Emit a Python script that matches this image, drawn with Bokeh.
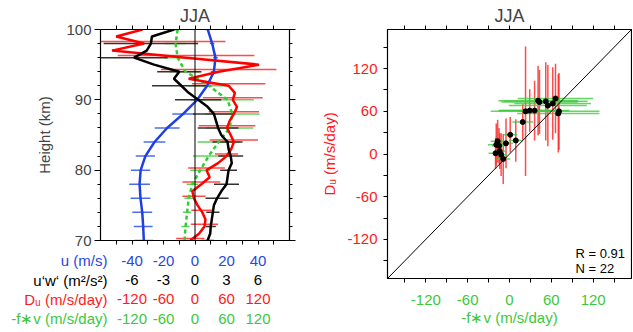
from bokeh.plotting import figure
from bokeh.models import Range1d, LinearAxis, FixedTicker, Label, Span, Slope
from bokeh.core.properties import value
from bokeh.layouts import row, column
from bokeh.embed import file_html
from bokeh.resources import INLINE

FONT = "Liberation Sans"
BLUE = "#1f3fe0"
BLUE_BAR = "#4a6cf0"
RED = "#ff0000"
GREEN = "#33cc33"
TXT_BLUE = "#2848dc"
TXT_RED = "#ff1a1a"
TXT_GREEN = "#3cc83c"

# ---------------- left panel data (JJA profiles) ----------------
h_2km = [70, 72, 74, 76, 78, 80, 82, 84, 86, 88, 90, 92, 94, 96, 98, 100]
u_wind = [-32.5, -32.9, -33.5, -34.6, -35.2, -34.5, -31.5, -25.7, -17.7, -7.5, 1.4, 7.7, 12.0, 13.0, 10.9, 8.1]
u_wind_err = [6, 6, 6.3, 6.3, 6.6, 6.1, 6.1, 6.9, 7.9, 6.9, 4, 3.2, 2, 1.5, 1.5, 1.5]
fv = [-20, -18, -15, -12, -5, 10, 26, 45, 66, 71, 62, 27, -18, -33, -37, -33]
fv_err = [8, 8, 8, 8, 11, 19, 30, 40, 45, 52, 50, 40, 30, 25, 20, 8]
uw_err = [0.63, 0.48, 0.63, 1.1, 1.19, 0.8, 1.19, 1.43, 1.94, 1.98, 2.2, 2.8, 2.1, 3.2, 4.5, 0.3]
du_err = [27, 26, 21, 22, 36, 35, 22, 46, 54, 48, 57, 70, 110, 130, 155, 5]

h_1km = list(range(70, 101))
uw = [1.2, 1.45, 1.5, 1.6, 1.7, 1.8, 2.1, 2.5, 3.0, 3.1, 3.2, 3.5, 3.4, 3.2, 3.1, 2.5,
      2.2, 2.0, 1.8, 1.2, 0.3, -0.6, -1.3, -2.0, -1.5, -3.9, -5.8, -4.6, -4.2, -4.1, -2.0]
du = [-9, 8, 18, 20, 14, 5, -2, -5, 12, 28, 22, 44, 60, 69, 74, 68,
      61, 66, 74, 80, 72, 76, 64, -12, 45, 122, -17, -158, -97, -150, -100]

u_ticks = [-40, -20, 0, 20, 40]
uw_ticks = [-6, -3, 0, 3, 6]
acc_ticks = [-120, -60, 0, 60, 120]
row_titles = ["u (m/s)", "u\u2018w\u2018 (m\u00b2/s\u00b2)", "D\u1d64 (m/s/day)", "-f\u2217v (m/s/day)"]

# ---------------- right panel data (scatter) ----------------
fv_pts = [41, 43, 52, 55, 62, 66, 71, 70, 36, 29, 23, 19, 9, 1, -5, -17, -19, -15, -20, -14, -12, -9]
du_pts = [75, 73, 74, 68, 71, 78, 60, 57, 61, 61, 60, 45, 19, 27, 15, 18, 13, 11.5, 1, 4, -1, -7]
du_pts_err = [49, 45, 55, 57, 51, 49, 54, 55, 42, 30, 91, 25, 30, 25, 35, 30, 30, 25, 22, 25, 30, 35]
fv_pts_err = [57, 55, 60, 56, 55, 54, 58, 59, 50, 45, 50, 15, 10, 10, 10, 10, 12, 10, 10, 8, 8, 10]
scatter_ticks = [-120, -60, 0, 60, 120]
stats_text = ["R = 0.91", "N = 22"]

# ---------------- layout constants (pixels) ----------------
W1, FR_L, FR_R = 318, 100, 289      # left figure width and frame edges
H1, FR_BOT_PAD = 249, 9             # left figure height, space under its frame
H_ROWS = 82                         # strip with the stacked scale labels
ROW_Y = [11, 30.5, 49.5, 69]        # row centres within the strip
TITLE_X = 107                       # right edge of the row titles


def no_align(p):
    if "frame_align" in p.properties():
        p.frame_align = False


def blank_axis(ax):
    ax.major_label_overrides = {t: "" for t in ax.ticker.ticks}
    ax.major_label_text_font_size = "1px"
    ax.major_label_standoff = 0
    ax.major_tick_in = 0
    ax.minor_tick_in = 0


def style_title(p):
    p.title.text = "JJA"
    p.title.align = "center"
    p.title.text_font = FONT
    p.title.text_font_size = "18px"
    p.title.text_font_style = "normal"
    p.title.standoff = 0


# ================= left figure (profiles) =================
p1 = figure(width=W1, height=H1, x_range=Range1d(-60, 60), y_range=Range1d(70, 100),
            output_backend="svg", toolbar_location=None,
            min_border_left=FR_L, min_border_right=W1 - FR_R, min_border_top=29, min_border_bottom=FR_BOT_PAD)
no_align(p1)
p1.extra_x_ranges = {"uw": Range1d(-9, 9), "acc": Range1d(-180, 180)}
p1.grid.visible = False
p1.outline_line_color = "black"
p1.outline_line_width = 1.2
style_title(p1)

ax_u = p1.xaxis[0]
ax_u.ticker = FixedTicker(ticks=u_ticks, minor_ticks=[-50, -30, -10, 10, 30, 50])
blank_axis(ax_u)
ax_u.major_tick_out = 4
ax_u.minor_tick_out = 4

ax_h = p1.yaxis[0]
ax_h.ticker = FixedTicker(ticks=[70, 80, 90, 100], minor_ticks=list(range(72, 100, 2)))
ax_h.major_tick_in = 0
ax_h.minor_tick_in = 0
ax_h.major_tick_out = 6
ax_h.minor_tick_out = 3
ax_h.major_label_standoff = 3
ax_h.major_label_text_font = FONT
ax_h.major_label_text_font_size = "15px"
ax_h.axis_label = "Height (km)"
ax_h.axis_label_text_font = FONT
ax_h.axis_label_text_font_size = "15px"
ax_h.axis_label_text_font_style = "normal"
ax_h.axis_label_standoff = 10

top1 = LinearAxis(ticker=FixedTicker(ticks=list(range(-50, 60, 10))))
blank_axis(top1)
top1.major_tick_out = 4
p1.add_layout(top1, "above")

right1 = LinearAxis(ticker=FixedTicker(ticks=[70, 80, 90, 100], minor_ticks=list(range(72, 100, 2))))
blank_axis(right1)
right1.major_tick_out = 6
right1.minor_tick_out = 3
p1.add_layout(right1, "right")

p1.add_layout(Span(location=0, dimension="height", line_color="black", line_width=1))

# error bars
p1.segment(x0=[v - e for v, e in zip(u_wind, u_wind_err)], x1=[v + e for v, e in zip(u_wind, u_wind_err)],
           y0=h_2km, y1=h_2km, line_color=BLUE_BAR, line_width=1.5)
p1.segment(x0=[v - e for v, e in zip(fv, fv_err)], x1=[v + e for v, e in zip(fv, fv_err)],
           y0=h_2km, y1=h_2km, line_color="#5fd35f", line_width=1.5, x_range_name="acc")
uw_even = uw[::2]
du_even = du[::2]
p1.segment(x0=[v - e for v, e in zip(uw_even, uw_err)], x1=[v + e for v, e in zip(uw_even, uw_err)],
           y0=h_2km, y1=h_2km, line_color="#333333", line_width=1.5, x_range_name="uw")
p1.segment(x0=[v - e for v, e in zip(du_even, du_err)], x1=[v + e for v, e in zip(du_even, du_err)],
           y0=[h + 0.3 for h in h_2km], y1=[h + 0.3 for h in h_2km], line_color="#ff2a2a",
           line_alpha=0.85, line_width=1.5, x_range_name="acc")

# profiles
p1.line(fv, h_2km, line_color=GREEN, line_width=2.5, line_dash="4 3", x_range_name="acc")
p1.line(u_wind, h_2km, line_color=BLUE, line_width=2.5)
p1.line(du, h_1km, line_color=RED, line_width=2.5, x_range_name="acc")
p1.line(uw, h_1km, line_color="black", line_width=2.5, x_range_name="uw")

# ================= strip with the four stacked scales =================
# its x scale continues the profile panel's u scale across the full strip width
px = 120 / (FR_R - FR_L)
x0 = -60 - FR_L * px
x1 = 60 + (W1 - FR_R) * px
p1b = figure(width=W1, height=H_ROWS, x_range=Range1d(x0, x1), y_range=Range1d(H_ROWS, 0),
             output_backend="svg", toolbar_location=None, min_border=0,
             x_axis_location=None, y_axis_location=None)
no_align(p1b)
p1b.extra_x_ranges = {"uw": Range1d(x0 * 6 / 40, x1 * 6 / 40), "acc": Range1d(x0 * 3, x1 * 3)}
p1b.grid.visible = False
p1b.outline_line_color = None

rows = [(u_ticks, "default", TXT_BLUE), (uw_ticks, "uw", "black"),
        (acc_ticks, "acc", TXT_RED), (acc_ticks, "acc", TXT_GREEN)]
for i, (ticks, rname, col) in enumerate(rows):
    p1b.text(x=ticks, y=[ROW_Y[i]] * len(ticks), text=[str(t) for t in ticks], x_range_name=rname,
             text_align="center", text_baseline="middle", text_color=col,
             text_font=value(FONT), text_font_size="15px")
    p1b.add_layout(Label(x=TITLE_X, y=ROW_Y[i], x_units="screen", y_units="data", text=row_titles[i],
                         text_align="right", text_baseline="middle", text_color=col,
                         text_font=FONT, text_font_size="15px"))

# ================= right figure (scatter) =================
p2 = figure(width=314, height=H1 + H_ROWS, x_range=Range1d(-175, 175), y_range=Range1d(-175, 175),
            output_backend="svg", toolbar_location=None,
            min_border_left=66, min_border_right=1, min_border_top=29,
            min_border_bottom=H1 + H_ROWS - 278)
no_align(p2)
p2.grid.visible = False
p2.outline_line_color = "black"
p2.outline_line_width = 1.2
style_title(p2)

minor30 = [-150, -90, -30, 30, 90, 150]
for ax, col, lab in [(p2.xaxis[0], TXT_GREEN, "-f\u2217v (m/s/day)"), (p2.yaxis[0], TXT_RED, "D\u1d64 (m/s/day)")]:
    ax.ticker = FixedTicker(ticks=scatter_ticks, minor_ticks=minor30)
    ax.major_label_overrides = {t: str(t) for t in scatter_ticks}
    ax.major_tick_in = 0
    ax.minor_tick_in = 0
    ax.major_tick_out = 4
    ax.minor_tick_out = 4
    ax.major_label_text_font = FONT
    ax.major_label_text_font_size = "15px"
    ax.major_label_text_color = col
    ax.axis_label = lab
    ax.axis_label_text_color = col
    ax.axis_label_text_font = FONT
    ax.axis_label_text_font_size = "15px"
    ax.axis_label_text_font_style = "normal"
p2.xaxis[0].major_label_standoff = 12
p2.xaxis[0].axis_label_standoff = 1
p2.yaxis[0].major_label_standoff = 6
p2.yaxis[0].axis_label_standoff = 6

top2 = LinearAxis(ticker=FixedTicker(ticks=[-150, -120, -90, -60, -30, 0, 30, 60, 90, 120, 150]))
blank_axis(top2)
top2.major_tick_out = 4
p2.add_layout(top2, "above")

p2.add_layout(Slope(gradient=1, y_intercept=0, line_color="black", line_width=1))

p2.segment(x0=fv_pts, x1=fv_pts, y0=[v - e for v, e in zip(du_pts, du_pts_err)],
           y1=[v + e for v, e in zip(du_pts, du_pts_err)], line_color="#ff2020", line_alpha=0.8, line_width=1.5)
p2.segment(x0=[v - e for v, e in zip(fv_pts, fv_pts_err)], x1=[v + e for v, e in zip(fv_pts, fv_pts_err)],
           y0=du_pts, y1=du_pts, line_color="#3fcc3f", line_alpha=0.8, line_width=1.5)
p2.scatter(fv_pts, du_pts, size=5, color="black")

for i, t in enumerate(stats_text):
    p2.add_layout(Label(x=188, y=25 - 15 * i, x_units="screen", y_units="screen", text=t,
                        text_baseline="middle", text_font=FONT, text_font_size="13px", text_color="black"))

layout = row(column(p1, p1b), p2)
open("out.html", "w").write(file_html(layout, INLINE))
